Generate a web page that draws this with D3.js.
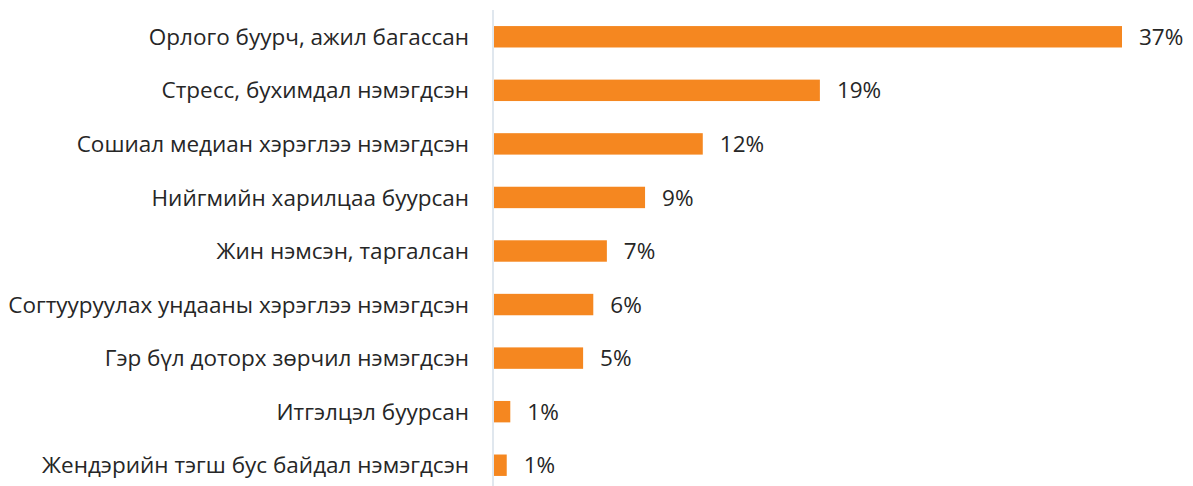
<!DOCTYPE html>
<html>
<head>
<meta charset="utf-8">
<script src="https://cdn.jsdelivr.net/npm/d3@7"></script>
<style>
  body { margin: 0; background: #fff; }
  svg text { font-family: "Open Sans", sans-serif; fill: #262626; }
</style>
</head>
<body>
<svg></svg>
<script>
const categories = [
  "Орлого буурч, ажил багассан",
  "Стресс, бухимдал нэмэгдсэн",
  "Сошиал медиан хэрэглээ нэмэгдсэн",
  "Нийгмийн харилцаа буурсан",
  "Жин нэмсэн, таргалсан",
  "Согтууруулах ундааны хэрэглээ нэмэгдсэн",
  "Гэр бүл доторх зөрчил нэмэгдсэн",
  "Итгэлцэл буурсан",
  "Жендэрийн тэгш бус байдал нэмэгдсэн"
]
const values = [37, 19.2, 12.3, 8.9, 6.65, 5.85, 5.25, 0.96, 0.75]
const valueLabels = ["37%", "19%", "12%", "9%", "7%", "6%", "5%", "1%", "1%"]

const
    svgWidth = 1193,
    svgHeight = 486,
    AXIS_X = 494,
    TOP = 10,
    BOTTOM = 492

let svg = d3.select('svg')
    .attr('width', svgWidth)
    .attr('height', svgHeight)

let x = d3.scaleLinear()
    .domain([0, 37])
    .range([AXIS_X, 1122])

let y = d3.scaleBand()
    .domain(categories)
    .range([TOP, BOTTOM])
    .paddingInner(0.6)
    .paddingOuter(0.3)

// bars
svg.append('g')
    .selectAll('rect')
    .data(values)
    .join('rect')
    .attr('x', x(0))
    .attr('y', (d, i) => y(categories[i]))
    .attr('width', d => x(d) - x(0))
    .attr('height', y.bandwidth())
    .attr('fill', '#F58720')

// value labels
svg.append('g')
    .selectAll('text')
    .data(values)
    .join('text')
    .attr('x', d => x(d) + 17)
    .attr('y', (d, i) => y(categories[i]) + y.bandwidth() / 2)
    .attr('dy', '0.36em')
    .style('font-size', '22.5px')
    .text((d, i) => valueLabels[i])

// category axis
let axis = svg.append('g')
    .attr('transform', `translate(${AXIS_X - 1},0)`)
    .call(d3.axisLeft(y).tickSize(0).tickPadding(24))

axis.select('.domain')
    .attr('d', `M0,${TOP}V${svgHeight}`)
    .attr('stroke', '#D9E1EA')
    .attr('stroke-width', 1.6)

axis.selectAll('.tick text')
    .attr('dy', '0.36em')
    .style('font-size', '22.5px')
    .style('font-family', '"Open Sans", sans-serif')
    .attr('fill', '#262626')
</script>
</body>
</html>
